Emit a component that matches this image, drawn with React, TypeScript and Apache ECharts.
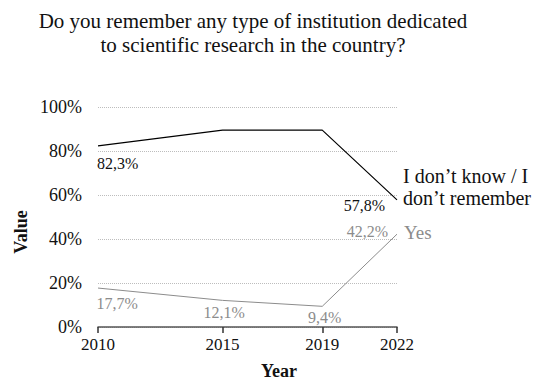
import React, { useEffect, useRef } from "react";
import * as echarts from "echarts";

const years = [2010, 2015, 2019, 2022];
const dontKnow = [82.3, 89.5, 89.5, 57.8];
const yes = [17.7, 12.1, 9.4, 42.2];
const dontKnowLabels = ["82,3%", "", "", "57,8%"];
const yesLabels = ["17,7%", "12,1%", "9,4%", "42,2%"];
const yTicks = [0, 20, 40, 60, 80, 100];

const FONT = "Liberation Serif";

// label placements [dx, dy, align] per point
const dkPlace: [number, number, string][] = [
  [-1, 18, "left"],
  [0, 0, "center"],
  [0, 0, "center"],
  [-12, 6, "right"],
];
const yesPlace: [number, number, string][] = [
  [-1.5, 15, "left"],
  [1.5, 12.6, "center"],
  [2.5, 11.5, "center"],
  [-9, -3, "right"],
];

function buildData(vals: number[], labels: string[], place: [number, number, string][], color: string) {
  return years.map((y, i) => ({
    value: [y, vals[i]],
    label: {
      show: labels[i] !== "",
      formatter: labels[i],
      position: [place[i][0], place[i][1]],
      align: place[i][2],
      verticalAlign: "middle",
      color,
      fontFamily: FONT,
      fontSize: 16,
    },
  }));
}

export default function App() {
  const ref = useRef<HTMLDivElement>(null);
  useEffect(() => {
    if (!ref.current) return;
    const chart = echarts.init(ref.current, null, { renderer: "svg" });
    chart.setOption({
      animation: false,
      backgroundColor: "#fff",
      textStyle: { fontFamily: FONT },
      title: {
        text: "Do you remember any type of institution dedicated\nto scientific research in the country?",
        left: 248,
        top: 4,
        textAlign: "center",
        textStyle: { fontFamily: FONT, fontSize: 21, fontWeight: "normal", color: "#111", lineHeight: 24 },
      },
      grid: { left: 98, right: 145, top: 107, bottom: 56, containLabel: false },
      xAxis: {
        type: "value",
        min: years[0],
        max: years[years.length - 1],
        axisLine: { show: true, lineStyle: { color: "#555", width: 1.5 } },
        axisTick: { show: true, customValues: years, length: 6, lineStyle: { color: "#333", width: 1.5 } },
        axisLabel: {
          customValues: years,
          formatter: (v: number) => String(v),
          fontFamily: FONT,
          fontSize: 17,
          color: "#111",
          margin: 9,
        },
        splitLine: { show: false },
      },
      yAxis: {
        type: "value",
        min: yTicks[0],
        max: yTicks[yTicks.length - 1],
        interval: 20,
        axisLine: { show: false },
        axisTick: { show: false },
        axisLabel: { formatter: "{value}%", fontFamily: FONT, fontSize: 18, color: "#111", margin: 16 },
        splitLine: { show: true, lineStyle: { color: "#bdbdbd", type: [1, 1], width: 1 } },
      },
      graphic: [
        {
          type: "text",
          x: 21,
          y: 232,
          rotation: Math.PI / 2,
          style: {
            text: "Value",
            fontFamily: FONT,
            fontSize: 18,
            fontWeight: "bold",
            fill: "#111",
            align: "center",
            verticalAlign: "middle",
          },
        },
        {
          type: "text",
          x: 279,
          y: 371,
          style: {
            text: "Year",
            fontFamily: FONT,
            fontSize: 18,
            fontWeight: "bold",
            fill: "#111",
            align: "center",
            verticalAlign: "middle",
          },
        },
      ],
      series: [
        {
          name: "I don\u2019t know / I\ndon\u2019t remember",
          type: "line",
          data: buildData(dontKnow, dontKnowLabels, dkPlace, "#111"),
          showSymbol: true,
          symbolSize: 0,
          lineStyle: { color: "#000", width: 1.2 },
          itemStyle: { color: "#000" },
          endLabel: {
            show: true,
            formatter: "{a}",
            fontFamily: FONT,
            fontSize: 20,
            lineHeight: 22,
            color: "#111",
            distance: 6,
            offset: [0, -13],
          },
        },
        {
          name: "Yes",
          type: "line",
          data: buildData(yes, yesLabels, yesPlace, "#8c8c8c"),
          showSymbol: true,
          symbolSize: 0,
          lineStyle: { color: "#8c8c8c", width: 1 },
          itemStyle: { color: "#8c8c8c" },
          endLabel: {
            show: true,
            formatter: "{a}",
            fontFamily: FONT,
            fontSize: 19,
            color: "#8c8c8c",
            distance: 7,
            offset: [0, -2],
          },
        },
      ],
    });
    return () => chart.dispose();
  }, []);
  return <div ref={ref} style={{ width: 542, height: 383, position: "absolute", left: 0, top: 0 }} />;
}
